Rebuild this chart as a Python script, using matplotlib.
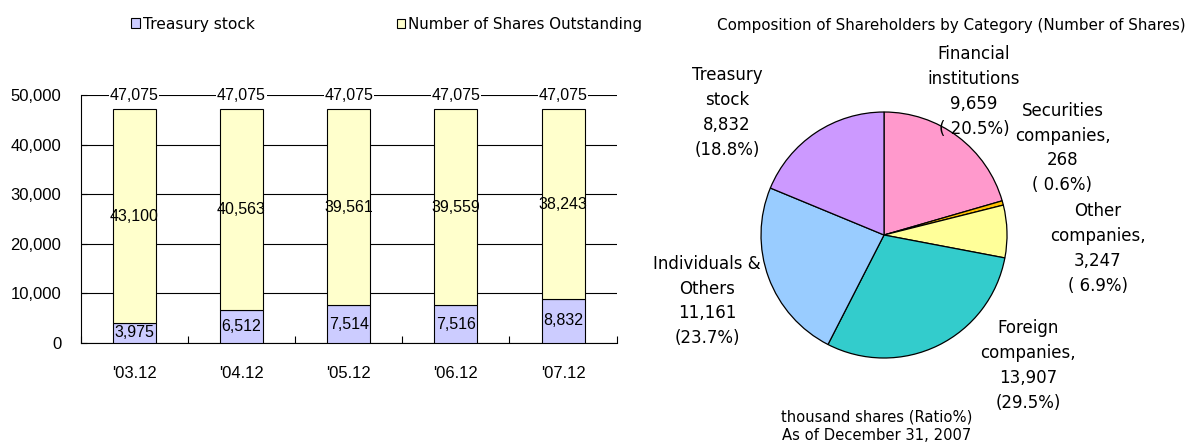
import numpy as np
import matplotlib
matplotlib.use('Agg')
import matplotlib.pyplot as plt
from matplotlib.ticker import FuncFormatter, FixedLocator

# bar chart data (thousand shares)
years = ["'03.12", "'04.12", "'05.12", "'06.12", "'07.12"]
treasury = [3975, 6512, 7514, 7516, 8832]
outstanding = [43100, 40563, 39561, 39559, 38243]
total = [47075, 47075, 47075, 47075, 47075]

# pie data, as of Dec 31, 2007
pie_names = ['Financial\ninstitutions', 'Securities\ncompanies,', 'Other\ncompanies,',
             'Foreign\ncompanies,', 'Individuals &\nOthers', 'Treasury\nstock']
pie_values = [9659, 268, 3247, 13907, 11161, 8832]
pie_pct = ['( 20.5%)', '( 0.6%)', '( 6.9%)', '(29.5%)', '(23.7%)', '(18.8%)']
pie_colors = ['#FF99CC', '#FFC000', '#FFFF99', '#33CCCC', '#99CCFF', '#CC99FF']

num_font = ['Liberation Sans', 'DejaVu Sans']
txt_font = ['DejaVu Sans']

fig = plt.figure(figsize=(11.93, 4.45), dpi=100)

# ---- stacked bars ----
ax = fig.add_axes([0.0676, 0.2299, 0.4493, 0.5566])
x = np.arange(len(years))
b1 = ax.bar(x, treasury, 0.4, color='#CCCCFF', edgecolor='black', linewidth=0.8,
            label='Treasury stock', zorder=3)
b2 = ax.bar(x, outstanding, 0.4, bottom=treasury, color='#FFFFCC', edgecolor='black',
            linewidth=0.8, label='Number of Shares Outstanding', zorder=3)

for i in range(len(years)):
    ax.text(x[i], treasury[i] / 2, format(treasury[i], ','), ha='center', va='center',
            fontsize=11.5, family=num_font, zorder=4)
    ax.text(x[i], treasury[i] + outstanding[i] / 2, format(outstanding[i], ','),
            ha='center', va='center', fontsize=11.5, family=num_font, zorder=4)
    ax.text(x[i], 50000, format(total[i], ','), ha='center', va='center', fontsize=11.5,
            family=num_font, zorder=4,
            bbox=dict(facecolor='white', edgecolor='none', pad=0.5))

ax.set_xlim(-0.5, 4.5)
ax.set_ylim(0, 50000)
ax.set_yticks(np.arange(0, 50001, 10000))
ax.yaxis.set_major_formatter(FuncFormatter(lambda v, p: format(int(v), ',')))
ax.set_xticks(x)
ax.set_xticklabels(years)
ax.xaxis.set_minor_locator(FixedLocator(np.arange(-0.5, 4.6, 1)))
ax.tick_params(axis='x', which='major', length=0, pad=17)
ax.tick_params(axis='x', which='minor', length=5, direction='in', width=0.8)
ax.tick_params(axis='y', length=4, direction='in', width=0.8, pad=14)
for lab in ax.get_xticklabels() + ax.get_yticklabels():
    lab.set_family(num_font)
    lab.set_fontsize(12)
ax.grid(axis='y', color='black', linewidth=0.8, zorder=0)
for s in ['top', 'right']:
    ax.spines[s].set_visible(False)
ax.spines['left'].set_linewidth(0.8)
ax.spines['bottom'].set_linewidth(0.8)

# two legend entries placed apart, like the original
leg_kw = dict(loc='center left', frameon=False, handlelength=0.55, handleheight=0.55,
              handletextpad=0.2, borderpad=0, borderaxespad=0)
fig.legend(handles=[b1], bbox_to_anchor=(131 / 1193, 0.946),
           prop={'family': txt_font, 'size': 11.2}, **leg_kw)
fig.legend(handles=[b2], bbox_to_anchor=(397 / 1193, 0.946),
           prop={'family': txt_font, 'size': 10.9}, **leg_kw)

# ---- pie ----
pax = fig.add_axes([0.6379, 0.1955, 0.2062, 0.5528])
pax.pie(pie_values, colors=pie_colors, startangle=90, counterclock=False,
        wedgeprops=dict(edgecolor='black', linewidth=0.9))
pax.set_xlim(-1, 1)
pax.set_ylim(-1, 1)
pax.set_aspect('equal')

label_pos = [(0.732, 1.165), (1.451, 0.707), (1.736, -0.111),
             (1.171, -1.063), (-1.439, -0.537), (-1.276, 0.994)]
for i in range(len(pie_values)):
    txt = pie_names[i] + '\n' + format(pie_values[i], ',') + '\n' + pie_pct[i]
    pax.text(label_pos[i][0], label_pos[i][1], txt, ha='center', va='center',
             fontsize=12, family=txt_font, linespacing=1.49, clip_on=False)

fig.text(0.797, 0.943, 'Composition of Shareholders by Category (Number of Shares)',
         ha='center', va='center', fontsize=10.9, family=txt_font)
fig.text(0.735, 0.042, 'thousand shares (Ratio%)\nAs of December 31, 2007',
         ha='center', va='center', fontsize=10.6, family=txt_font, linespacing=1.3)

plt.savefig('out.png', dpi=100)
